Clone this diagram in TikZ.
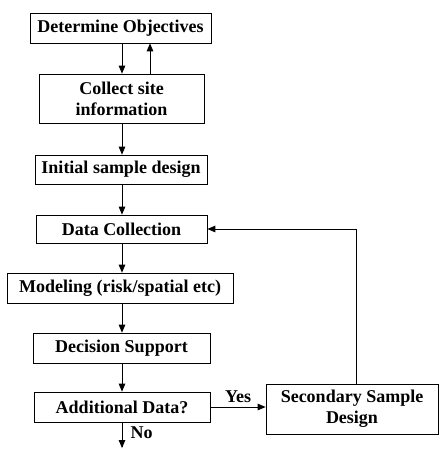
\documentclass[tikz,border=0pt]{standalone}
\usepackage{fontspec}
\setmainfont{Liberation Serif}
\usetikzlibrary{positioning, arrows}

\begin{document}
\begin{tikzpicture}[>=triangle 45,x=1pt,y=-1pt,font=\fontsize{18}{21}\selectfont\bfseries]
\tikzstyle{block}=[rectangle,draw,line width=0.8pt,inner sep=0pt,align=center]
\tikzstyle{flow}=[->,line width=0.8pt]
\useasboundingbox (0,0) rectangle (439,449);

  %--- boxes ---
  \node[block, minimum width=181pt, minimum height=30pt] (1) at (120.5,28) {Determine Objectives};
  \node[block, minimum width=165pt, minimum height=49pt] (2) at (121.5,98.5) {Collect site\\information};
  \node[block, minimum width=172pt, minimum height=29pt] (3) at (121,169.5) {Initial sample design};
  \node[block, minimum width=171pt, minimum height=28pt] (4) at (121.5,229) {Data Collection};
  \node[block, minimum width=226pt, minimum height=30pt] (5) at (120,288) {Modeling (risk/spatial etc)};
  \node[block, minimum width=177pt, minimum height=30pt] (6) at (121.5,348) {Decision Support};
  \node[block, minimum width=176pt, minimum height=30pt] (7) at (122,407) {Additional Data?};
  \node[block, minimum width=172pt, minimum height=50pt] (8) at (352,409) {Secondary Sample\\Design};
  \coordinate (end) at (122,448);

  %--- arrows ---
  \draw[flow] ([xshift=1.5pt]1.south) -- ([xshift=0.5pt]2.north);
  \draw[flow] ([xshift=28.5pt]2.north) -- ([xshift=29.5pt]1.south);
  \draw[flow] ([xshift=0.5pt]2.south) -- ([xshift=1pt]3.north);
  \draw[flow] ([xshift=1pt]3.south) -- ([xshift=0.5pt]4.north);
  \draw[flow] ([xshift=0.5pt]4.south) -- ([xshift=2pt]5.north);
  \draw[flow] ([xshift=2pt]5.south) -- ([xshift=0.5pt]6.north);
  \draw[flow] ([xshift=0.5pt]6.south) -- (7.north);
  \draw[flow] (7.east) -- node[above=1pt] {Yes} (8.west |- 7.east);
  \draw[flow] ([xshift=4pt]8.north) |- (4.east);
  \draw[flow] (7.south) -- node[right=5pt, pos=0.4] {No} (end);
\end{tikzpicture}
\end{document}
